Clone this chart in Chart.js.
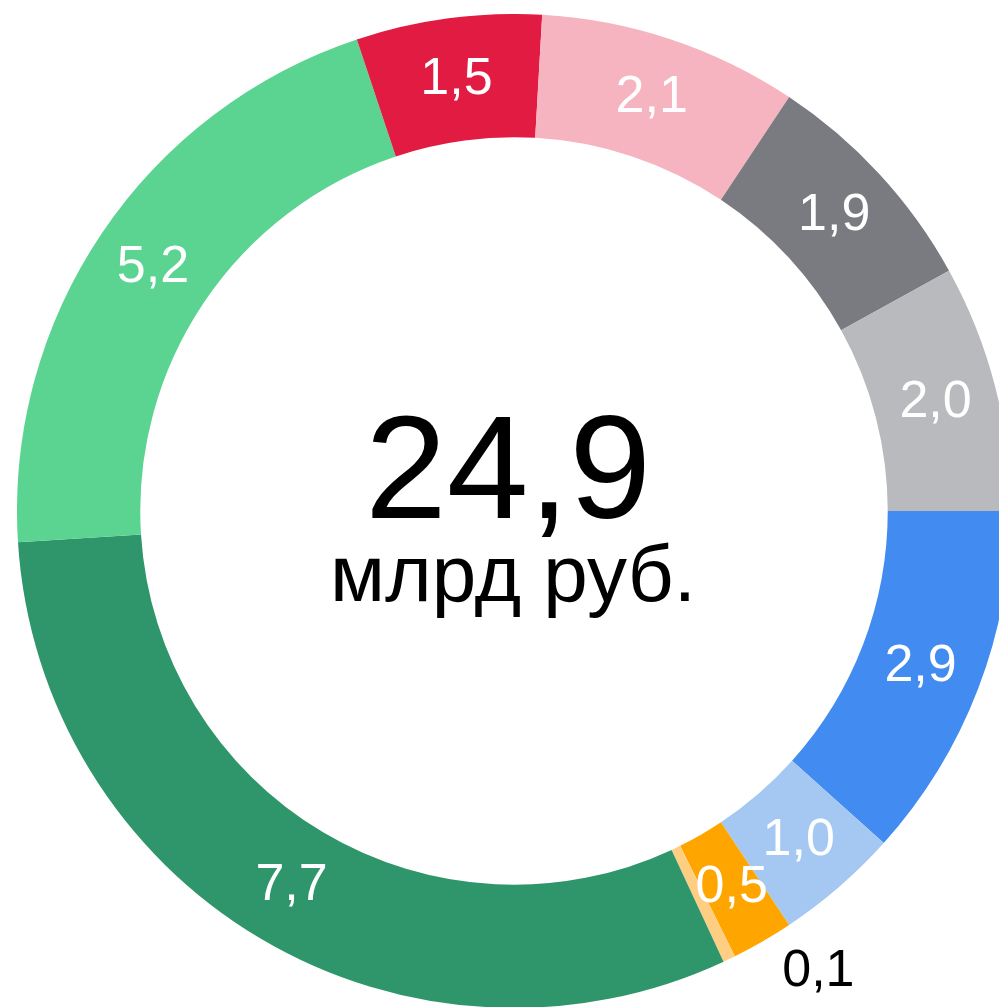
<!DOCTYPE html>
<html>
<head>
<meta charset="utf-8">
<script src="https://cdn.jsdelivr.net/npm/chart.js@4"></script>
<style>
  html, body { margin: 0; padding: 0; background: #fff; overflow: hidden; width: 999px; height: 1007px; }
  #wrap { position: absolute; left: 17px; top: 14px; width: 994px; height: 994px; }
</style>
</head>
<body>
<div id="wrap"><canvas id="myChart"></canvas></div>
<script>
// доли по направлениям, млрд руб.
const labels = ['A', 'B', 'C', 'D', 'E', 'F', 'G', 'H', 'I', 'J'];
const values = [2.9, 1.0, 0.5, 0.1, 7.7, 5.2, 1.5, 2.1, 1.9, 2.0];
const colors = ['#428BF0', '#A4C8F2', '#FFA500', '#FFCE82', '#2E966A',
  '#5AD490', '#E11B41', '#F6B4C0', '#7A7B80', '#B9BABE'];
const totalText = '24,9';
const unitText = 'млрд руб.';

const fmt = (v) => v.toFixed(1).replace('.', ',');

// подписи сегментов + текст в центре
const labelsPlugin = {
  id: 'sliceLabels',
  afterDatasetsDraw(chart) {
    const { ctx } = chart;
    const meta = chart.getDatasetMeta(0);
    ctx.save();
    ctx.font = '52px "Liberation Sans", Arial, sans-serif';
    ctx.textBaseline = 'middle';
    meta.data.forEach((arc, i) => {
      const v = values[i];
      if (v < 0.3) {
        // маленький сегмент — подпись снаружи
        const p = arc.getProps(['x', 'y', 'startAngle', 'endAngle', 'outerRadius']);
        const a = (p.startAngle + p.endAngle) / 2;
        const ox = p.x + Math.cos(a) * p.outerRadius;
        const oy = p.y + Math.sin(a) * p.outerRadius;
        ctx.fillStyle = '#000';
        ctx.textAlign = 'left';
        ctx.fillText(fmt(v), ox + 53, oy + 13);
      } else {
        const c = arc.getCenterPoint();
        ctx.fillStyle = '#fff';
        ctx.textAlign = 'center';
        ctx.fillText(fmt(v), c.x, c.y);
      }
    });
    const c0 = meta.data[0];
    ctx.fillStyle = '#000';
    ctx.textAlign = 'center';
    ctx.textBaseline = 'alphabetic';
    ctx.font = '147px "Liberation Sans", Arial, sans-serif';
    ctx.fillText(totalText, c0.x - 6, c0.y + 7);
    ctx.font = '80px "Liberation Sans", Arial, sans-serif';
    ctx.fillText(unitText, c0.x - 1, c0.y + 90);
    ctx.restore();
  },
};

new Chart(document.getElementById('myChart'), {
  type: 'doughnut',
  data: {
    labels,
    datasets: [{
      data: values,
      backgroundColor: colors,
      borderWidth: 0,
    }],
  },
  options: {
    responsive: true,
    maintainAspectRatio: false,
    animation: false,
    rotation: 90,
    cutout: '75.2%',
    plugins: {
      legend: { display: false },
      tooltip: { enabled: false },
    },
  },
  plugins: [labelsPlugin],
});
</script>
</body>
</html>
